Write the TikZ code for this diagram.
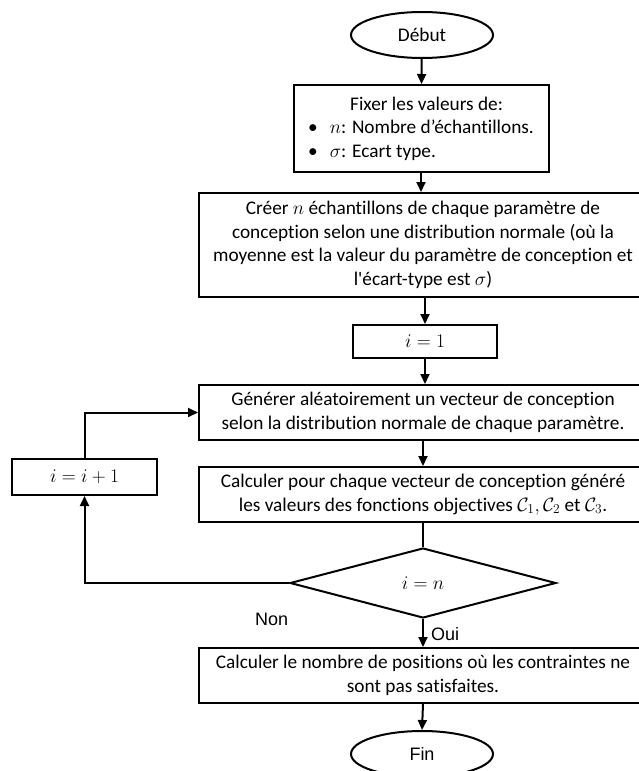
\RequirePackage{fix-cm}
\documentclass[tikz,border=0pt]{standalone}
\usepackage{fontspec}
\setmainfont{Carlito}[Ligatures={TeXOff,NoCommon}]
\newfontfamily\arialf{Liberation Sans}
\usetikzlibrary{arrows.meta,shapes.geometric}
\begin{document}
\begin{tikzpicture}[x=1pt,y=1pt,
  font=\fontsize{19.3}{23.5}\selectfont,
  box/.style={draw,line width=2pt,rectangle,inner sep=0pt,align=center},
  wide/.style={box,minimum width=448pt,minimum height=55pt},
  term/.style={draw,line width=2pt,ellipse,minimum width=142pt,minimum height=46pt,inner sep=0pt},
  arr/.style={line width=2pt,-{Triangle[length=10pt,width=9pt]}},
  ln/.style={line width=2pt},
  lbl/.style={font=\arialf\fontsize{18}{21}\selectfont,inner sep=0pt}]
\useasboundingbox (0,0) rectangle (639,-771);
\node[term] (debut) at (422,-35) {Début};
\node[box,minimum width=255pt,minimum height=87pt,align=left] (fixer) at (421,-128.5)
  {\hspace*{42pt}Fixer les valeurs de:\\ \textbullet\hspace{12pt}$n$: Nombre d’échantillons.\\ \textbullet\hspace{12pt}$\sigma$: Ecart type.};
\node[wide,minimum height=104pt] (creer) at (423,-245)
  {Créer $n$ échantillons de chaque paramètre de\\ conception selon une distribution normale (où la\\ moyenne est la valeur du paramètre de conception et\\ l'écart-type est $\sigma$)};
\node[box,minimum width=144pt,minimum height=33pt] (init) at (425,-341.5) {$i=1$};
\node[wide] (gen) at (423,-412.5)
  {Générer aléatoirement un vecteur de conception\\ selon la distribution normale de chaque paramètre.};
\node[wide] (calc) at (423,-494.5)
  {Calculer pour chaque vecteur de conception généré\\ les valeurs des fonctions objectives $\mathcal{C}_1, \mathcal{C}_2$ et $\mathcal{C}_3$.};
\node[draw,line width=2pt,diamond,aspect=3.8,minimum width=266pt,minimum height=70pt,inner sep=0pt] (test) at (423,-583) {$i=n$};
\node[wide] (final) at (423,-675.5)
  {Calculer le nombre de positions où les contraintes ne\\ sont pas satisfaites.};
\node[term,font=\arialf\fontsize{18}{21}\selectfont] (fin) at (422,-754) {Fin};
\node[box,minimum width=145pt,minimum height=36pt] (inc) at (84.5,-477) {$i=i+1$};
\node[lbl,anchor=base west] (non) at (255,-625) {Non};
\node[lbl,anchor=base west] (oui) at (431,-640) {Oui};

\draw[arr] (debut) -- (fixer);
\draw[arr] (fixer.south) -- (fixer.south |- creer.north);
\draw[arr] (creer.south -| init.north) -- (init.north);
\draw[arr] (init.south) -- (init.south |- gen.north);
\draw[arr] (gen.south) -- (calc.north);
\draw[ln] (calc.south) -- (test.north);
\draw[arr] (test.south) -- (final.north);
\draw[arr] (final.south) -- (fin.north);
\draw[arr] (test.west) -| (inc.south);
\draw[arr] (inc.north) |- (gen.west);
\end{tikzpicture}
\end{document}
